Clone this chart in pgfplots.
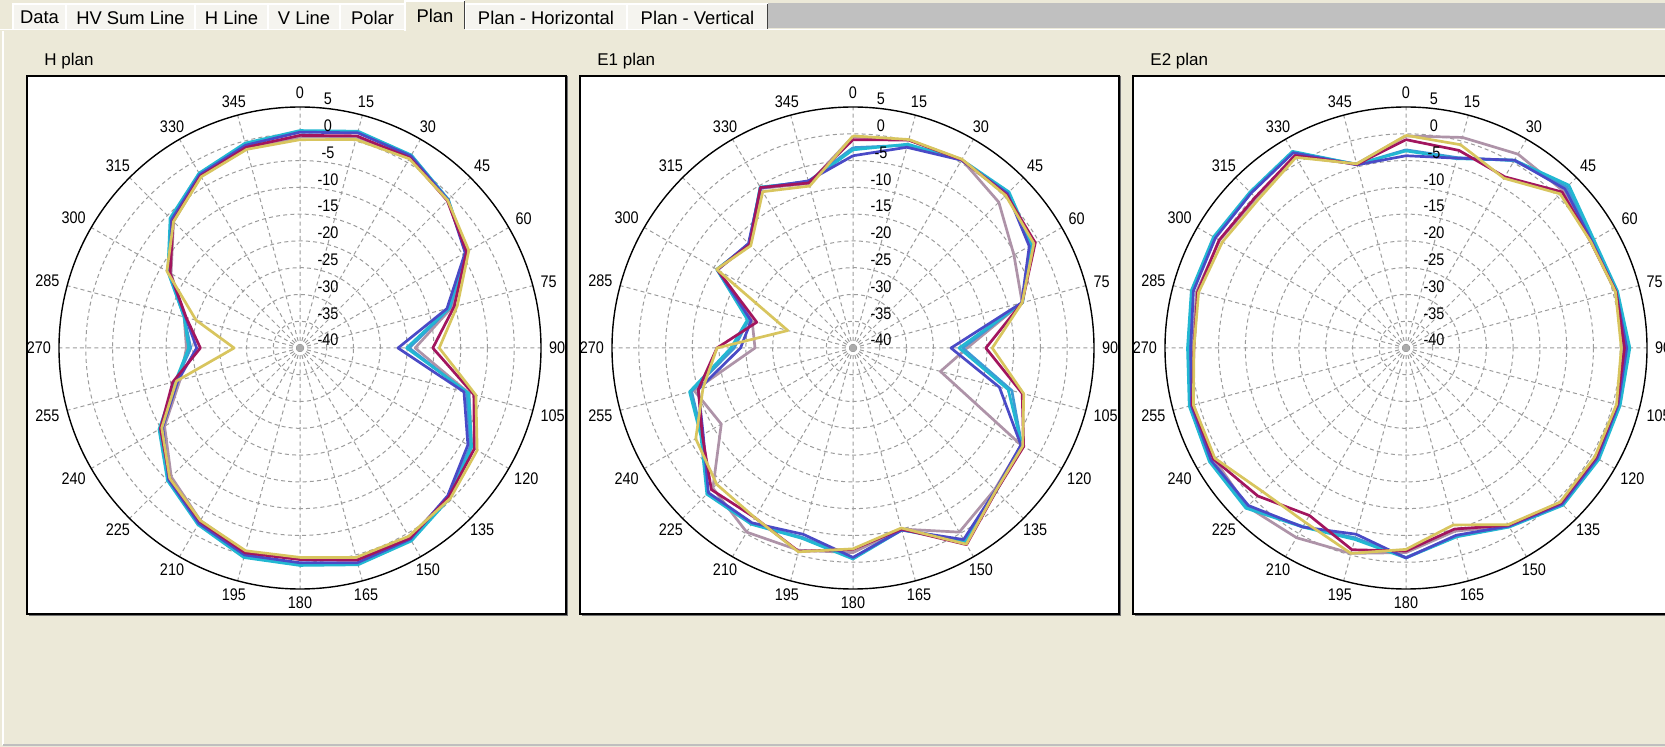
\documentclass[border=0pt]{standalone}
\usepackage{fontspec}
\setmainfont{Liberation Sans}
\newfontfamily\narrowfont{Liberation Sans}[FakeStretch=0.86]
\usepackage{pgfplots}
\pgfplotsset{compat=1.18}
\usepgfplotslibrary{polar}
\usepackage{pgfplotstable}

\definecolor{panel}{HTML}{ECE9D8}
\definecolor{strip}{HTML}{C0C0C0}
\definecolor{tabface}{HTML}{F5F4EF}
\definecolor{gridc}{HTML}{9C9C9C}
\definecolor{sB}{HTML}{4A4AC6}
\definecolor{sC}{HTML}{22B8D2}
\definecolor{sT}{HTML}{3E9AD4}
\definecolor{sP}{HTML}{AE93A8}
\definecolor{sM}{HTML}{A2155E}
\definecolor{sY}{HTML}{D8C55E}

\newcommand\uifont{\fontsize{8.5}{10}\selectfont}
\newcommand\tabfont{\fontsize{9.2}{10}\selectfont}
\newcommand\tickfont{\narrowfont\fontsize{8.4}{10}\selectfont}

% gain in dB per azimuth (degrees, clockwise from north)
\pgfplotstableread{
ang   B      C      T      P      M      Y
0     0.3    0.6    0.4   -0.6   -0.3   -1.1
15    1.6    1.9    1.7    0.8    1.0    0.3
30    1.4    1.6    1.5    1.0    1.0    0.8
45   -0.9   -0.8   -0.9   -1.0   -1.1   -1.0
60   -4.4   -4.3   -4.2   -4.0   -4.1   -3.6
75  -11.6  -11.2  -11.0  -10.6  -10.2   -9.6
90  -21.7  -20.1  -19.6  -18.5  -15.2  -14.0
105  -8.3   -7.4   -7.8   -7.3   -6.4   -6.0
120  -3.8   -3.0   -3.3   -3.0   -2.4   -1.8
135  -1.0   -0.4   -0.6   -0.8   -0.7   -0.3
150   1.2    1.6    1.4    0.9    1.0    0.6
165   1.5    1.9    1.7    0.8    1.0    0.5
180   0.1    0.6    0.3   -0.7   -0.5   -0.9
195   0.0    0.5    0.2   -0.6   -0.4   -0.8
210  -2.2   -1.9   -2.1   -2.8   -2.6   -2.8
225  -5.3   -5.0   -5.2   -6.0   -5.6   -5.6
240 -10.4   -9.6  -10.1  -10.8   -9.9  -10.2
255 -16.4  -15.9  -16.0  -16.8  -15.4  -16.1
270 -20.7  -19.2  -19.6  -18.8  -21.4  -27.7
285 -17.9  -17.6  -17.6  -17.6  -18.0  -19.9
300 -11.9  -11.5  -11.6  -12.2  -12.0  -11.3
315  -6.1   -5.7   -5.9   -6.6   -6.5   -6.6
330  -2.6   -2.3   -2.4   -3.0   -2.9   -3.1
345  -0.8   -0.4   -0.6   -1.4   -1.2   -1.6
360   0.3    0.6    0.4   -0.6   -0.3   -1.1
}\hplan

\pgfplotstableread{
ang   B      C      T      P      M      Y
0    -4.1   -3.0   -2.6   -0.5   -1.1   -0.4
15   -1.2   -0.6   -0.8    0.2    0.2    0.3
30    0.5    0.6    0.5    0.6    0.6    0.7
45    0.8    1.2    1.0   -1.5    0.5    0.3
60   -2.0   -1.4   -1.6   -5.3   -0.7   -1.0
75   -7.4   -7.2   -7.3   -7.3   -7.3   -7.3
90  -21.7  -20.2  -19.5  -18.7  -15.2  -14.0
105 -11.7  -10.0   -9.3  -23.1   -7.3   -7.0
120  -3.8   -3.6   -3.6   -3.7   -3.2   -3.4
135  -2.4   -2.2   -2.2   -2.6   -2.2   -2.3
150   1.3    1.8    1.6   -0.3    2.4    2.3
165  -4.8   -4.8   -4.9   -5.0   -5.0   -5.2
180  -0.9   -0.6   -0.8   -1.8   -2.4   -2.5
195  -4.0   -3.2   -3.4   -0.9   -0.7   -0.6
210  -2.3   -2.0   -2.1   -0.3   -3.4   -3.4
225  -1.8   -1.4   -1.6   -3.0   -2.6   -4.0
240  -7.7   -7.2   -7.4  -11.6   -7.5   -6.1
255 -10.1   -8.4   -8.8   -9.3  -10.1  -11.0
270 -19.0  -17.2  -17.8  -21.7  -14.6  -14.6
285 -20.3  -19.6  -19.8  -20.5  -21.4  -27.4
300 -10.8  -10.6  -10.7  -10.8  -10.7  -10.6
315 -12.4  -12.6  -12.5  -12.6  -12.7  -13.0
330  -5.5   -5.3   -5.4   -5.6   -5.4   -6.3
345  -7.7   -7.9   -7.8   -8.2   -8.1   -8.7
360  -4.1   -3.0   -2.6   -0.5   -1.1   -0.4
}\eoneplan

\pgfplotstableread{
ang   B      C      T      P      M      Y
0    -4.1   -3.2   -3.0   -0.4   -1.1   -0.3
15   -3.3   -3.4   -3.2    0.7   -1.8   -0.7
30    0.5    0.5    0.4    1.8   -3.1   -3.4
45    2.0    3.0    2.5    1.5    1.2    0.7
60    0.0    0.5    0.3   -0.2   -0.2   -0.2
75    0.6    0.9    0.8    0.5    0.6    0.5
90    1.2    1.8    1.5    0.6    0.8    0.2
105   1.0    1.4    1.2    0.8    0.8    0.7
120   1.2    1.6    1.4    0.8    0.9    0.7
135   1.2    1.5    1.3    0.8    0.9    0.7
150  -1.6   -1.4   -1.5   -1.6   -1.8   -1.9
165  -3.8   -3.5   -3.6   -4.6   -5.0   -5.8
180  -0.8   -0.8   -0.9   -1.8   -2.1   -2.4
195  -4.0   -3.0   -3.3   -0.3   -1.0   -0.3
210  -1.4   -1.4   -1.5    0.9   -3.9   -2.4
225   1.6    2.3    2.0    1.9   -0.9   -2.1
240   2.0    2.4    2.2    1.4    1.5    1.2
255   1.5    1.9    1.7    1.1    1.3    1.1
270   0.2    0.8    0.5   -0.2   -0.4   -0.4
285   1.1    1.5    1.3    0.5    0.3    0.1
300   1.1    1.5    1.3    0.2    0.3   -0.4
315   0.9    1.2    1.0   -0.4   -0.2   -0.9
330   2.1    2.4    2.2    1.3    1.5    1.1
345  -4.6   -4.5   -4.5   -4.4   -4.5   -4.4
360  -4.1   -3.2   -3.0   -0.4   -1.1   -0.3
}\etwoplan

\pgfplotsset{
  plan/.style={
    width=241pt, height=241pt, scale only axis, anchor=center,
    xmin=0, xmax=360, ymin=0, ymax=45,
    xtick={0,15,...,345}, ytick={5,10,...,40},
    xticklabels={}, yticklabels={},
    major tick length=0pt,
    xmajorgrids, ymajorgrids,
    major grid style={gridc, line width=0.5pt, dash pattern=on 2pt off 1.6pt},
    separate axis lines,
    x axis line style={black, line width=0.7pt},
    y axis line style={draw=none},
    clip=false,
    after end axis/.code={
      % azimuth labels, clockwise from the top
      \foreach \a in {0,15,...,345}{
        \pgfmathtruncatemacro\m{mod(450-\a,360)}
        \pgfmathtruncatemacro\an{mod(630-\a,360)}
        \node[font=\tickfont, inner sep=0pt, anchor=\an, shift={(\m:3.8pt)}]
          at (axis cs:\m,45) {\a};
      }
      % dB ring labels (radius = dB + 40)
      \foreach \d in {5,0,-5,...,-40}{
        \pgfmathsetmacro\r{\d+40}
        \node[font=\tickfont, inner sep=0pt, anchor=south, xshift=14pt, yshift=0.8pt]
          at (axis cs:90,\r) {\d};
      }
      \fill[gridc!85] ([xshift=-1.6pt,yshift=-1.6pt]axis cs:0,0)
        rectangle ([xshift=1.6pt,yshift=1.6pt]axis cs:0,0);
    },
  },
  ser/.style={line width=1.35pt, line join=round, mark=none},
}

\newcommand\sixseries[1]{%
  \addplot[ser,sP] table[x expr={mod(450-\thisrow{ang},360)}, y expr={\thisrow{P}+40}] {#1};
  \addplot[ser,sT] table[x expr={mod(450-\thisrow{ang},360)}, y expr={\thisrow{T}+40}] {#1};
  \addplot[ser,sC] table[x expr={mod(450-\thisrow{ang},360)}, y expr={\thisrow{C}+40}] {#1};
  \addplot[ser,sB] table[x expr={mod(450-\thisrow{ang},360)}, y expr={\thisrow{B}+40}] {#1};
  \addplot[ser,sM] table[x expr={mod(450-\thisrow{ang},360)}, y expr={\thisrow{M}+40}] {#1};
  \addplot[ser,sY] table[x expr={mod(450-\thisrow{ang},360)}, y expr={\thisrow{Y}+40}] {#1};
}

\begin{document}
\begin{tikzpicture}
\useasboundingbox (0,0) rectangle (832.5pt,-373.5pt);
\clip (0,0) rectangle (832.5pt,-373.5pt);

% window chrome: panel, tab strip, tabs, frames, titles
\begin{scope}[x=0.5pt,y=-0.5pt]
  \fill[panel] (0,0) rectangle (1665,747);
  \fill[strip] (768,3) rectangle (1665,28);
  \draw[white, line width=0.7pt] (0,29.5) -- (1665,29.5);
  \foreach \xa/\xb/\t in {13/66/Data,66/195/HV Sum Line,195/268/H Line,268/340/V Line,340/405/Polar,465/627/Plan - Horizontal,627/768/Plan - Vertical}{
    \fill[tabface] (\xa,4) rectangle (\xb,29);
    \draw[white, line width=0.6pt] (\xa,29) -- (\xa,4) -- (\xb,4);
    \draw[black!75, line width=0.7pt] (\xb-0.7,4) -- (\xb-0.7,29);
    \node[font=\tabfont, inner sep=0pt] at ({(\xa+\xb)/2},17.5) {\t};
  }
  \fill[panel] (405,1) rectangle (465,31);
  \draw[white, line width=0.6pt] (405,31) -- (405,1) -- (465,1);
  \draw[black!75, line width=0.7pt] (464.3,1) -- (464.3,29);
  \node[font=\tabfont, inner sep=0pt] at (435,16) {Plan};

  \draw[white, line width=1pt] (3,31) -- (3,745);
  \draw[black!25, line width=0.8pt] (3,745) -- (1665,745);

  \foreach \bx in {27,580,1133}{
    \fill[black!55] (\bx+2,76) rectangle ++(539,540);
    \filldraw[fill=white, draw=black, line width=0.9pt] (\bx,76) rectangle ++(539,538);
  }
  \node[font=\uifont, anchor=west, inner sep=0pt] at (44,61) {H plan};
  \node[font=\uifont, anchor=west, inner sep=0pt] at (597,61) {E1 plan};
  \node[font=\uifont, anchor=west, inner sep=0pt] at (1150,61) {E2 plan};
\end{scope}

\begin{polaraxis}[plan, at={(150pt,-174pt)}]
  \sixseries{\hplan}
\end{polaraxis}

\begin{polaraxis}[plan, at={(426.5pt,-174pt)}]
  \sixseries{\eoneplan}
\end{polaraxis}

\begin{polaraxis}[plan, at={(703pt,-174pt)}]
  \sixseries{\etwoplan}
\end{polaraxis}
\end{tikzpicture}
\end{document}
